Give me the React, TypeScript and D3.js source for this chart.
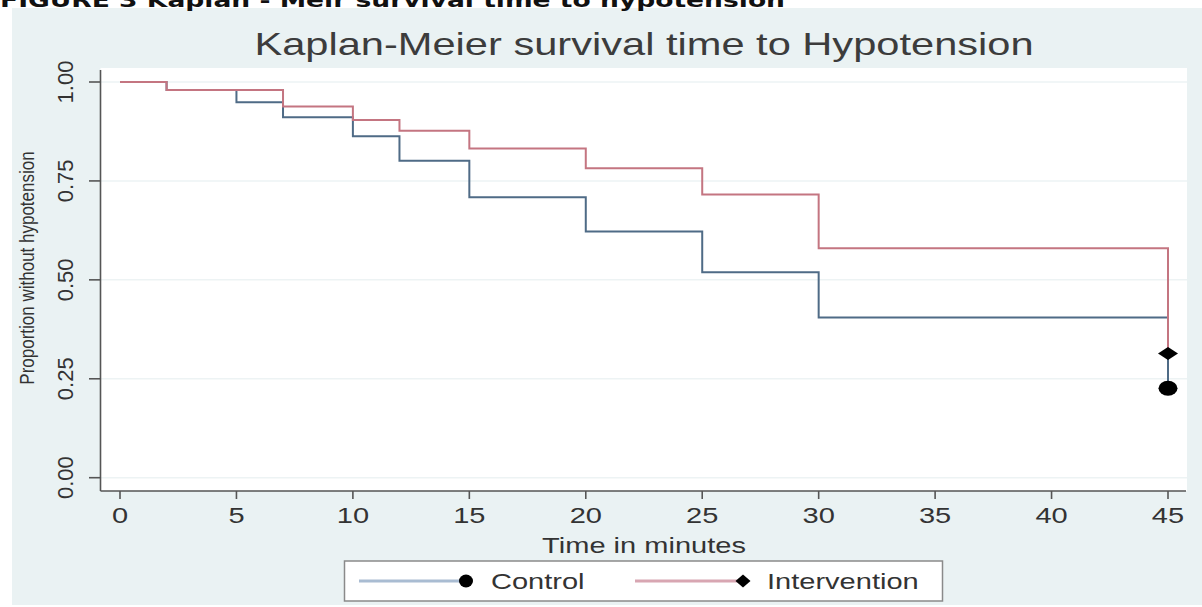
import React from "react";
import * as d3 from "d3";

const controlTimes = [0, 2, 5, 7, 10, 12, 15, 20, 25, 30, 45];
const controlSurv = [1.0, 0.98, 0.949, 0.911, 0.863, 0.801, 0.709, 0.622, 0.519, 0.405, 0.226];
const interventionTimes = [0, 2, 7, 10, 12, 15, 20, 25, 30, 45];
const interventionSurv = [1.0, 0.98, 0.938, 0.904, 0.877, 0.832, 0.782, 0.716, 0.58, 0.314];
const xTicks = [0, 5, 10, 15, 20, 25, 30, 35, 40, 45];
const yTicks = [0, 0.25, 0.5, 0.75, 1.0];
const seriesNames = ["Control", "Intervention"];

const W = 1202;
const H = 607;
const FONT = "'Liberation Sans', Arial, Helvetica, sans-serif";
const SX = 1.32;

export default function App() {
  const x = d3.scaleLinear().domain([0, 45]).range([120, 1168]);
  const y = d3.scaleLinear().domain([0, 1]).range([477.7, 82]);
  const line = d3
    .line<[number, number]>()
    .x((d) => x(d[0]))
    .y((d) => y(d[1]))
    .curve(d3.curveStepAfter);

  const ctrl: [number, number][] = controlTimes.map((t, i) => [t, controlSurv[i]]);
  const intv: [number, number][] = interventionTimes.map((t, i) => [t, interventionSurv[i]]);
  const cLast = ctrl[ctrl.length - 1];
  const iLast = intv[intv.length - 1];
  const fmt = d3.format(".2f");

  const plotL = 100.5;
  const plotR = 1187;
  const plotT = 68;
  const plotB = 491;

  const diamond = (cx: number, cy: number, hw: number, hh: number) =>
    `M${cx - hw},${cy} L${cx},${cy - hh} L${cx + hw},${cy} L${cx},${cy + hh} Z`;

  const ctrlColor = "#4f6b86";
  const intvColor = "#c47581";

  return (
    <svg
      width={W}
      height={H}
      style={{ position: "absolute", left: 0, top: 0, display: "block" }}
      fontFamily={FONT}
    >
      <rect x={0} y={0} width={W} height={H} fill="#ffffff" />
      <rect x={12} y={8} width={W - 12} height={597} fill="#eaf2f3" />
      <text
        x={0}
        y={7}
        fontFamily="'DejaVu Sans', Verdana, sans-serif"
        fontWeight="bold"
        fontSize={20}
        fill="#111"
        textLength={785}
        lengthAdjust="spacingAndGlyphs"
      >
        FIGURE 3 Kaplan - Meir survival time to hypotension
      </text>

      {/* title */}
      <g transform={`translate(644,55) scale(1.3,1)`}>
        <text textAnchor="middle" fontSize={32} fill="#3c3c3c">
          Kaplan-Meier survival time to Hypotension
        </text>
      </g>

      {/* plot region */}
      <rect x={plotL} y={plotT} width={plotR - plotL} height={plotB - plotT} fill="#ffffff" />
      {yTicks.map((t) => (
        <line
          key={"g" + t}
          x1={plotL}
          x2={plotR}
          y1={y(t)}
          y2={y(t)}
          stroke="#edf3f4"
          strokeWidth={1.5}
        />
      ))}

      {/* series */}
      <path d={line(ctrl) || ""} fill="none" stroke={ctrlColor} strokeWidth={2} />
      <path d={line(intv) || ""} fill="none" stroke={intvColor} strokeWidth={2} />
      <ellipse cx={x(cLast[0])} cy={y(cLast[1])} rx={9.5} ry={7.5} fill="#000" />
      <path d={diamond(x(iLast[0]), y(iLast[1]), 10, 6.5)} fill="#000" />

      {/* axes */}
      <line x1={plotL} x2={plotL} y1={70} y2={plotB} stroke="#555" strokeWidth={1.6} />
      <line x1={plotL} x2={1186} y1={plotB} y2={plotB} stroke="#555" strokeWidth={1.6} />
      {yTicks.map((t) => (
        <g key={"y" + t}>
          <line x1={89} x2={plotL} y1={y(t)} y2={y(t)} stroke="#555" strokeWidth={1.6} />
          <g transform={`translate(73,${y(t)}) rotate(-90)`}>
            <text textAnchor="middle" fontSize={22} fill="#333">
              {fmt(t)}
            </text>
          </g>
        </g>
      ))}
      {xTicks.map((t) => (
        <g key={"x" + t}>
          <line x1={x(t)} x2={x(t)} y1={plotB} y2={499} stroke="#555" strokeWidth={1.6} />
          <g transform={`translate(${x(t)},523) scale(${SX},1)`}>
            <text textAnchor="middle" fontSize={22} fill="#333">
              {t}
            </text>
          </g>
        </g>
      ))}
      <g transform={`translate(34,268) scale(1.2,1) rotate(-90)`}>
        <text textAnchor="middle" fontSize={17} fill="#333">
          Proportion without hypotension
        </text>
      </g>
      <g transform={`translate(644,553) scale(${SX},1)`}>
        <text textAnchor="middle" fontSize={22} fill="#333">
          Time in minutes
        </text>
      </g>

      {/* legend */}
      <rect x={344.5} y={561} width={598} height={40} fill="#ffffff" stroke="#8a8a8a" strokeWidth={1.5} />
      <line x1={359} x2={466} y1={581} y2={581} stroke="#a9bcd2" strokeWidth={3} />
      <ellipse cx={466} cy={581} rx={7} ry={6.5} fill="#000" />
      <g transform={`translate(491,589) scale(${SX},1)`}>
        <text fontSize={22} fill="#333">
          {seriesNames[0]}
        </text>
      </g>
      <line x1={635} x2={743} y1={581} y2={581} stroke="#d8a6b2" strokeWidth={3} />
      <path d={diamond(743, 581, 7.5, 6.5)} fill="#000" />
      <g transform={`translate(767,589) scale(${SX},1)`}>
        <text fontSize={22} fill="#333">
          {seriesNames[1]}
        </text>
      </g>
    </svg>
  );
}
